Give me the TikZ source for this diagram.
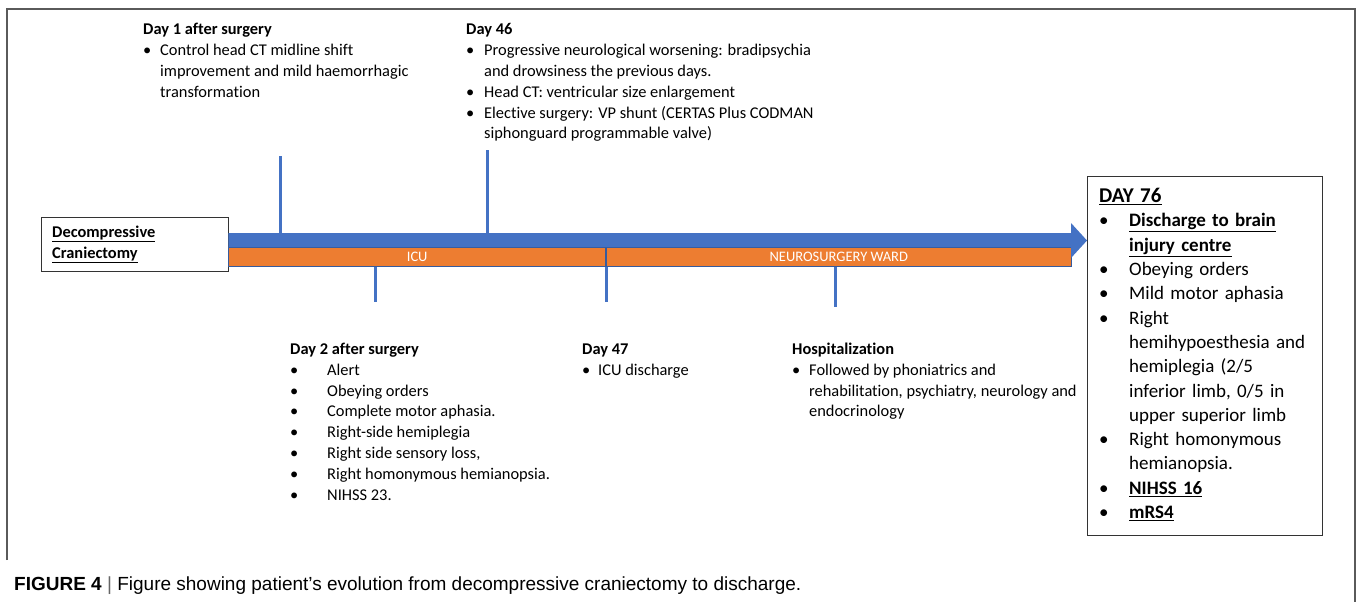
\documentclass[tikz,border=0pt]{standalone}
\usepackage{fontspec}
\setmainfont{Carlito}[Ligatures=NoCommon]
\newfontfamily\capfont{Liberation Sans}
\usepackage{xcolor}
\usepackage{tikz}
\usetikzlibrary{positioning}
\definecolor{bar_blue}{HTML}{4472C4}
\definecolor{bar_orange}{HTML}{ED7D31}
\definecolor{frame_gray}{HTML}{5A5A5A}
\tikzset{
    tnode/.style = {align=left, inner sep=0pt, anchor=base west, font=\fontsize{16.4}{20.8}\selectfont},
    tick/.style = {draw=bar_blue, line width=3pt},
    stay/.style = {rectangle, fill=bar_orange, draw=bar_blue!80!black, line width=0.6pt, text=white, minimum height=19pt, inner sep=0pt, anchor=north west, font=\fontsize{14.5}{16}\selectfont},
    start_box/.style = {rectangle, draw=black!80, thin, anchor=north west, align=left, minimum width=187pt, minimum height=54pt, text width=165pt, inner xsep=11pt, inner ysep=0pt, font=\fontsize{16.4}{21}\selectfont},
    end_box/.style = {rectangle, draw=black!80, thin, anchor=north west, align=left, minimum height=359pt, text width=211pt, inner xsep=12pt, inner ysep=0pt, font=\fontsize{19}{24.3}\selectfont}
}

\begin{document}
\begin{tikzpicture}
            [x=1pt, y=-1pt,
            frame/.style={draw=frame_gray, line width=1.5pt}]
            \useasboundingbox (0,0) rectangle (1357,602);

            \draw[frame] (7,560) -- (7,9) -- (1355,9) -- (1355,602);

            % events above the time line
            \node[tnode] (day_one) at (143,35) {\begin{tabular}[t]{@{}p{17pt}@{}l@{}}
                \multicolumn{2}{@{}l@{}}{\textbf{Day 1 after surgery}}\\
                • & Control head CT midline shift\\
                  & improvement and mild haemorrhagic\\
                  & transformation
            \end{tabular}};
            \node[tnode] (day_46) at (466,35) {\begin{tabular}[t]{@{}p{18pt}@{}l@{}}
                \multicolumn{2}{@{}l@{}}{\textbf{Day 46}}\\
                • & Progressive neurological worsening: bradipsychia\\
                  & and drowsiness the previous days.\\
                • & Head CT: ventricular size enlargement\\
                • & Elective surgery: VP shunt (CERTAS Plus CODMAN\\
                  & siphonguard programmable valve)
            \end{tabular}};

            % events below the time line
            \node[tnode] (day_two) at (290,354.5) {\begin{tabular}[t]{@{}p{37pt}@{}l@{}}
                \multicolumn{2}{@{}l@{}}{\textbf{Day 2 after surgery}}\\
                • & Alert\\
                • & Obeying orders\\
                • & Complete motor aphasia.\\
                • & Right-side hemiplegia\\
                • & Right side sensory loss,\\
                • & Right homonymous hemianopsia.\\
                • & NIHSS 23.
            \end{tabular}};
            \node[tnode] (day_47) at (582,354.5) {\begin{tabular}[t]{@{}p{16pt}@{}l@{}}
                \multicolumn{2}{@{}l@{}}{\textbf{Day 47}}\\
                • & ICU discharge
            \end{tabular}};
            \node[tnode] (hosp) at (792,354.5) {\begin{tabular}[t]{@{}p{17pt}@{}l@{}}
                \multicolumn{2}{@{}l@{}}{\textbf{Hospitalization}}\\
                • & Followed by phoniatrics and\\
                  & rehabilitation, psychiatry, neurology and\\
                  & endocrinology
            \end{tabular}};

            % start and end
            \node[start_box] (craniectomy) at (41,217)
                {\textbf{\underline{Decompressive}}\\\textbf{\underline{Craniectomy}}};
            \node[end_box] (day_76) at (1087,176) {\begin{tabular}[t]{@{}p{30pt}@{}l@{}}
                \multicolumn{2}{@{}l@{}}{\fontsize{21}{24}\selectfont\textbf{\underline{DAY 76}}}\\
                • & \textbf{\underline{Discharge to brain}}\\
                  & \textbf{\underline{injury centre}}\\
                • & Obeying orders\\
                • & Mild motor aphasia\\
                • & Right\\
                  & hemihypoesthesia and\\
                  & hemiplegia (2/5\\
                  & inferior limb, 0/5 in\\
                  & upper superior limb\\
                • & Right homonymous\\
                  & hemianopsia.\\
                • & \textbf{\underline{NIHSS 16}}\\
                • & \textbf{\underline{mRS4}}
            \end{tabular}};

            % stays
            \node[stay, minimum width=377pt] (icu) at (craniectomy.east |- 0,247) {ICU};
            \node[stay, minimum width=465pt] (ward) at (icu.north east) {NEUROSURGERY WARD};

            % ticks
            \coordinate (t_day1) at (280,156);
            \coordinate (t_day46) at (487,150);
            \coordinate (t_day2) at (375,302);
            \coordinate (t_day47) at (606,302);
            \coordinate (t_hosp) at (835,307);
            \draw[tick] (t_day1) -- (t_day1 |- icu.north);
            \draw[tick] (t_day46) -- (t_day46 |- icu.north);
            \draw[tick] (t_day2 |- icu.south) -- (t_day2);
            \draw[tick] (t_day47 |- icu.south) -- (t_day47);
            \draw[tick] (t_hosp |- ward.south) -- (t_hosp);

            % time arrow
            \fill[bar_blue] (craniectomy.east |- 0,233) -- (1071,233) -- (1071,223)
                -- (day_76.west |- 0,240.5) -- (1071,258) -- (1071,247)
                -- (craniectomy.east |- 0,247) -- cycle;

            \node[anchor=base west, inner sep=0pt, font=\capfont\fontsize{19}{20}\selectfont] (caption) at (14,590)
                {\textbf{FIGURE 4} {\color{black!60}|} Figure showing patient’s evolution from decompressive craniectomy to discharge.};
\end{tikzpicture}
\end{document}
